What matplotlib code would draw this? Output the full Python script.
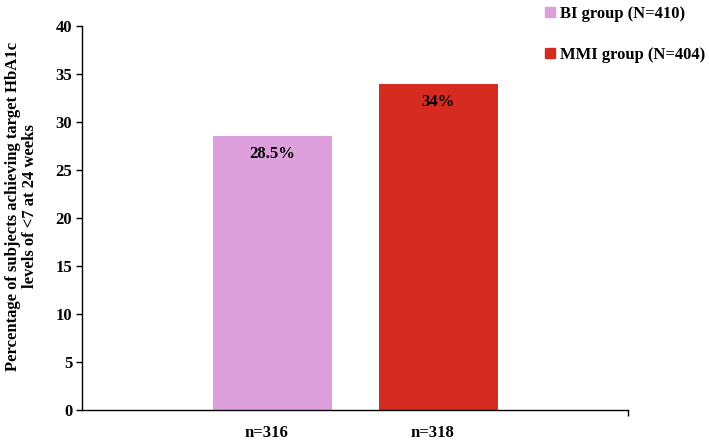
import matplotlib
matplotlib.use("Agg")
import matplotlib.pyplot as plt
import matplotlib.transforms as mtransforms
from matplotlib.patches import Patch

# data
groups = ["BI group (N=410)", "MMI group (N=404)"]
sample_labels = ["n=316", "n=318"]
percent = [28.5, 34]
value_labels = ["28.5%", "34%"]
colors = ["#DDA0DD", "#D62B20"]

plt.rcParams['font.family'] = ['Liberation Serif', 'DejaVu Serif']
plt.rcParams['font.weight'] = 'bold'

fig = plt.figure(figsize=(7.09, 4.43), dpi=100)
ax = fig.add_axes([82 / 709, 33 / 443, 546 / 709, 384 / 443])

xpos = list(range(len(percent)))
bars = ax.bar(xpos, percent, width=0.717, color=colors, zorder=2)

for b, lab in zip(bars, value_labels):
    ax.annotate(lab, (b.get_x() + b.get_width() / 2, b.get_height()),
                xytext=(0, -13), textcoords="offset points",
                ha="center", va="center", fontsize=12, fontweight="bold")

ax.set_xlim(-1.148, 2.145)
ax.set_ylim(0, 40)
ax.set_yticks(range(0, 41, 5))
ax.set_xticks(xpos)
ax.set_xticklabels(sample_labels, fontsize=12, fontweight="bold")
ax.tick_params(axis="x", length=0, pad=11)
ax.tick_params(axis="y", length=4, width=1, pad=3, labelsize=12, direction="out")
# small tick at the right end of the category axis
ax.set_xticks([2.145], minor=True)
ax.tick_params(axis="x", which="minor", length=4, width=1, direction="out")

# category labels sit a little left of the bar centres
shift = mtransforms.ScaledTranslation(-6 / 100, 0, fig.dpi_scale_trans)
for t in ax.get_xticklabels():
    t.set_transform(t.get_transform() + shift)

for s in ["top", "right"]:
    ax.spines[s].set_visible(False)
ax.spines["left"].set_linewidth(1)
ax.spines["bottom"].set_linewidth(1)

ax.set_ylabel("Percentage of subjects achieving target HbA1c\nlevels of <7 at 24 weeks",
              fontsize=12, fontweight="bold", linespacing=1.15)
ax.yaxis.set_label_coords(-0.08, 0.53)

handles = [Patch(color=c) for c in colors]
fig.legend(handles, groups, loc="upper left", bbox_to_anchor=(537 / 709, 1.006),
           frameon=False, fontsize=12, handlelength=0.6, handleheight=0.6,
           handletextpad=0.3, labelspacing=1.5, borderaxespad=0.1)

fig.savefig("out.png", dpi=100)
